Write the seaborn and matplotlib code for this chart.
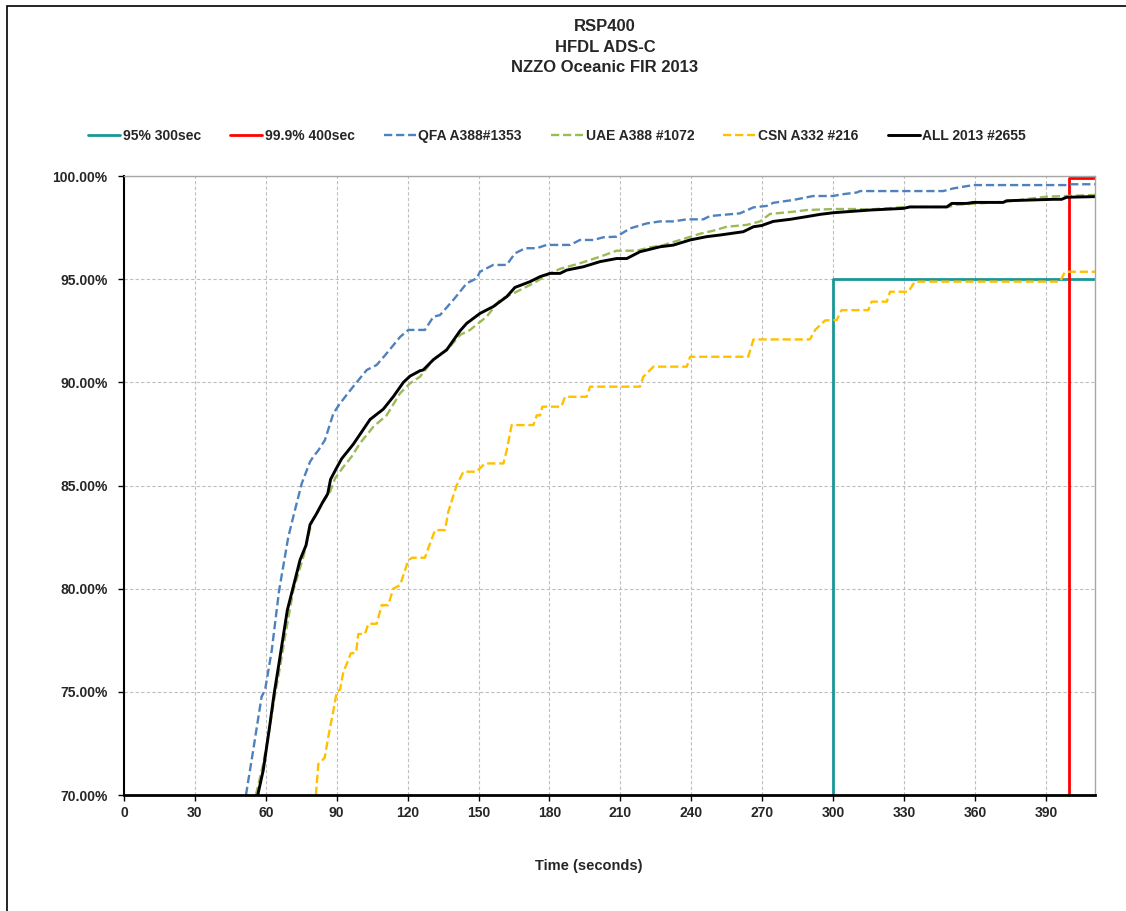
import matplotlib
matplotlib.use("Agg")
import matplotlib.pyplot as plt
import matplotlib.ticker as mticker
from matplotlib.patches import Rectangle
import seaborn as sns

sns.set_style("white")
plt.rcParams["font.family"] = ["Liberation Sans", "DejaVu Sans"]
plt.rcParams["font.weight"] = "bold"

TITLE = "RSP400\nHFDL ADS-C\nNZZO Oceanic FIR 2013"
XLABEL = "Time (seconds)"
LABELS = ["95% 300sec", "99.9% 400sec", "QFA A388#1353",
          "UAE A388 #1072", "CSN A332 #216", "ALL 2013 #2655"]
COLORS = ["#1A9696", "#FF0000", "#4F81BD", "#9BBB59", "#FFC000", "#000000"]
X_TICKS = list(range(0, 391, 30))
Y_TICKS = [70, 75, 80, 85, 90, 95, 100]

# threshold requirement lines
REQ95_TIME = [300, 300, 410.8]
REQ95_PCT = [70, 95, 95]
REQ999_TIME = [400, 400, 410.8]
REQ999_PCT = [70, 99.9, 99.9]

QFA_TIME = [51.6, 54.7, 58.2, 59.7, 62.5, 65.6, 69.5, 72.3, 75.2, 78.7,
            80.1, 82.2, 85.0, 88.6, 91.4, 97.0, 102.7, 106.9, 111.1, 116.8,
            120.3, 127.3, 130.9, 133.7, 139.3, 145.0, 149.2, 150.6, 156.2, 161.9,
            165.4, 169.7, 174.6, 178.8, 188.8, 192.9, 198.6, 202.8, 208.4, 214.1,
            221.1, 226.8, 232.4, 238.1, 245.1, 247.9, 260.6, 266.3, 271.9, 274.7,
            283.2, 291.6, 300.1, 302.9, 310.0, 311.4, 346.6, 350.9, 359.3, 398.8,
            400.9, 410.8]
QFA_PCT = [70.0, 72.2, 74.76, 75.1, 77.0, 79.9, 82.5, 83.8, 85.1, 86.15,
           86.4, 86.7, 87.2, 88.5, 88.98, 89.8, 90.6, 90.84, 91.4, 92.2,
           92.54, 92.54, 93.18, 93.26, 93.99, 94.8, 95.04, 95.36, 95.69, 95.69,
           96.25, 96.5, 96.5, 96.66, 96.66, 96.9, 96.9, 97.03, 97.06, 97.46,
           97.7, 97.8, 97.8, 97.9, 97.9, 98.06, 98.19, 98.48, 98.55, 98.7,
           98.84, 99.03, 99.03, 99.1, 99.2, 99.27, 99.27, 99.4, 99.56, 99.56,
           99.6, 99.6]

UAE_TIME = [55.8, 58.9, 61.5, 63.8, 66.0, 68.1, 71.6, 75.9, 79.4, 82.9,
            87.2, 89.3, 92.8, 96.3, 99.8, 105.5, 111.1, 116.8, 121.0, 125.2,
            130.9, 137.9, 142.2, 146.4, 153.4, 159.1, 164.7, 173.2, 180.2, 184.5,
            192.9, 201.4, 208.4, 216.9, 222.5, 228.2, 235.2, 243.7, 249.3, 255.0,
            263.5, 269.1, 273.3, 283.2, 288.8, 300.1, 308.5, 315.6, 331.0, 348.8,
            352.0, 373.4, 390.4, 410.8]
UAE_PCT = [70.0, 71.5, 73.2, 74.8, 76.2, 77.67, 79.9, 81.55, 83.24, 83.97,
           84.7, 85.35, 85.9, 86.4, 87.04, 87.85, 88.4, 89.47, 89.95, 90.27,
           91.1, 91.73, 92.3, 92.54, 93.18, 94.0, 94.31, 94.8, 95.28, 95.5,
           95.77, 96.09, 96.38, 96.38, 96.54, 96.65, 96.9, 97.2, 97.35, 97.54,
           97.63, 97.8, 98.16, 98.27, 98.35, 98.4, 98.4, 98.38, 98.5, 98.5,
           98.6, 98.76, 99.0, 99.08]

CSN_TIME = [81.2, 82.2, 84.9, 86.4, 88.6, 90.0, 91.4, 92.8, 94.9, 95.9,
            98.2, 99.1, 101.9, 103.4, 106.9, 109.0, 111.8, 113.9, 116.8, 120.3,
            122.0, 127.3, 128.7, 131.6, 135.8, 137.2, 140.7, 143.6, 149.2, 152.7,
            160.5, 161.9, 164.0, 173.2, 174.6, 176.0, 177.0, 185.0, 186.6, 195.7,
            197.2, 218.3, 219.7, 224.0, 238.1, 239.5, 264.1, 266.3, 290.2, 292.4,
            296.6, 301.5, 303.6, 314.9, 316.3, 322.7, 324.1, 331.8, 334.6, 396.0,
            398.1, 410.8]
CSN_PCT = [70.0, 71.5, 71.8, 72.8, 74.1, 75.0, 75.1, 75.97, 76.54, 76.86,
           76.9, 77.8, 77.8, 78.3, 78.3, 79.2, 79.2, 80.0, 80.17, 81.39,
           81.5, 81.5, 81.95, 82.84, 82.84, 83.73, 85.0, 85.67, 85.67, 86.07,
           86.07, 86.7, 87.93, 87.93, 88.4, 88.4, 88.82, 88.82, 89.3, 89.3,
           89.79, 89.79, 90.27, 90.76, 90.76, 91.24, 91.24, 92.08, 92.08, 92.54,
           93.0, 93.02, 93.5, 93.5, 93.91, 93.91, 94.39, 94.39, 94.88, 94.88,
           95.36, 95.36]

ALL_TIME = [56.6, 58.9, 61.4, 63.5, 65.6, 69.1, 72.3, 74.5, 77.0, 78.7,
            81.8, 84.1, 86.2, 87.4, 89.7, 92.1, 94.9, 97.0, 104.1, 109.7,
            113.9, 118.2, 121.0, 125.2, 126.6, 130.9, 136.5, 142.2, 145.0, 150.6,
            156.2, 161.9, 165.4, 171.8, 176.0, 180.2, 184.5, 187.3, 194.3, 201.4,
            208.4, 212.7, 218.3, 226.8, 232.4, 239.5, 246.5, 252.2, 262.0, 266.3,
            269.8, 274.7, 281.8, 288.8, 294.5, 300.1, 315.6, 329.7, 332.5, 348.1,
            350.2, 356.5, 359.3, 372.0, 373.4, 393.2, 396.7, 398.8, 410.8]
ALL_PCT = [70.0, 71.2, 73.15, 74.9, 76.4, 78.96, 80.4, 81.4, 82.1, 83.1,
           83.7, 84.2, 84.6, 85.3, 85.8, 86.3, 86.7, 87.0, 88.2, 88.7,
           89.3, 90.0, 90.3, 90.56, 90.6, 91.1, 91.57, 92.5, 92.86, 93.34,
           93.67, 94.15, 94.6, 94.88, 95.12, 95.28, 95.28, 95.44, 95.6, 95.85,
           96.0, 96.0, 96.33, 96.57, 96.65, 96.9, 97.06, 97.14, 97.3, 97.54,
           97.6, 97.8, 97.9, 98.03, 98.14, 98.22, 98.35, 98.43, 98.5, 98.5,
           98.67, 98.67, 98.72, 98.72, 98.8, 98.87, 98.87, 98.97, 99.0]

W, H = 1126, 911
fig = plt.figure(figsize=(W / 100, H / 100), dpi=100)
ax = fig.add_axes([124 / W, 1 - 795 / H, (1095 - 124) / W, (795 - 176) / H])

series = [
    (REQ95_TIME, REQ95_PCT, "-", 2.0),
    (REQ999_TIME, REQ999_PCT, "-", 2.0),
    (QFA_TIME, QFA_PCT, (0, (3.5, 1.6)), 1.7),
    (UAE_TIME, UAE_PCT, (0, (3.5, 1.6)), 1.7),
    (CSN_TIME, CSN_PCT, (0, (3.5, 1.6)), 1.7),
    (ALL_TIME, ALL_PCT, "-", 2.1),
]
for (xs, ys, ls, lw), lab, col in zip(series, LABELS, COLORS):
    sns.lineplot(x=xs, y=ys, ax=ax, color=col, linewidth=lw, label=lab,
                 estimator=None, sort=False)
    ax.lines[-1].set_linestyle(ls)

handles, labels = ax.get_legend_handles_labels()
if ax.get_legend() is not None:
    ax.get_legend().remove()

ax.set_xlim(0, 410.8)
ax.set_ylim(70, 100)
ax.set_xticks(X_TICKS)
ax.set_yticks(Y_TICKS)
ax.yaxis.set_major_formatter(mticker.FuncFormatter(lambda v, p: f"{v:.2f}%"))
ax.grid(True, color="#BFBFBF", linestyle=(0, (3, 2)), linewidth=0.8)
ax.set_axisbelow(True)
ax.set_xlabel("")
ax.set_ylabel("")

for s in ["top", "right"]:
    ax.spines[s].set_color("#A6A6A6")
    ax.spines[s].set_linewidth(1.0)
ax.spines["left"].set_color("black")
ax.spines["left"].set_linewidth(1.5)
ax.spines["bottom"].set_color("black")
ax.spines["bottom"].set_linewidth(2.0)

ax.tick_params(axis="y", direction="out", length=4.3, width=1, color="black",
               labelsize=10, pad=7.5, left=True)
ax.tick_params(axis="x", direction="out", length=4, width=1, color="black",
               labelsize=10, pad=4, bottom=True)
for t in ax.get_xticklabels() + ax.get_yticklabels():
    t.set_fontweight("bold")

fig.text(605 / W, 1 - 47 / H, TITLE, ha="center", va="center",
         fontsize=12, fontweight="bold", linespacing=1.42)
fig.text(589 / W, 1 - 866 / H, XLABEL, ha="center", va="center",
         fontsize=10.5, fontweight="bold")

fig.legend(handles, labels, loc="center", bbox_to_anchor=(557 / W, 1 - 136 / H),
           ncol=6, frameon=False,
           prop={"size": 10, "weight": "bold"},
           handlelength=2.3, handletextpad=0.2, columnspacing=2.1)

fig.patches.append(Rectangle((7 / W, -0.1), 1.2, 1.1 - 6 / H,
                             transform=fig.transFigure, fill=False,
                             edgecolor="black", linewidth=1.2, clip_on=False))

fig.savefig("out.png", dpi=100, facecolor="white")
